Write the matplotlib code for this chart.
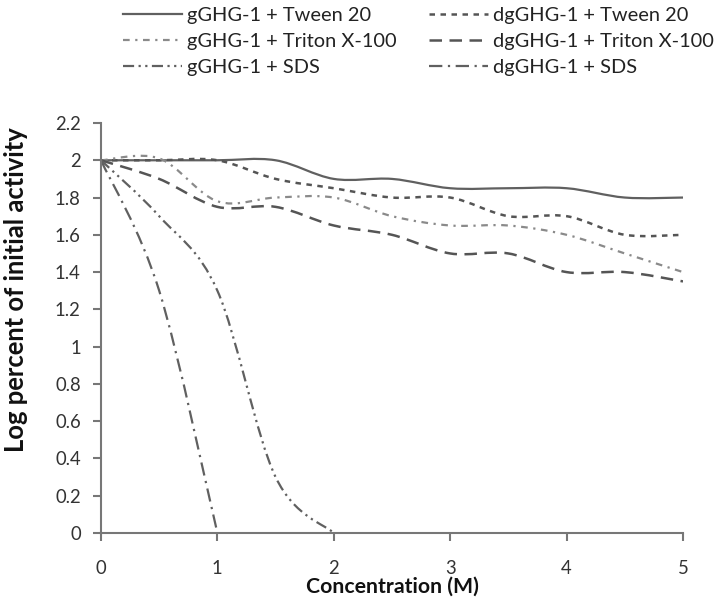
import matplotlib.pyplot as plt
from matplotlib.path import Path
from matplotlib.patches import PathPatch
from matplotlib.lines import Line2D

plt.rcParams['font.family'] = ['Lato', 'DejaVu Sans']

conc = [0, 0.5, 1, 1.5, 2, 2.5, 3, 3.5, 4, 4.5, 5]
g_tween = [2, 2, 2, 2, 1.9, 1.9, 1.85, 1.85, 1.85, 1.8, 1.8]
dg_tween = [2, 2, 2, 1.9, 1.85, 1.8, 1.8, 1.7, 1.7, 1.6, 1.6]
g_triton = [2, 2.01, 1.78, 1.8, 1.8, 1.7, 1.65, 1.65, 1.6, 1.5, 1.4]
dg_triton = [2, 1.9, 1.75, 1.75, 1.65, 1.6, 1.5, 1.5, 1.4, 1.4, 1.35]
conc_g_sds = [0, 0.5, 1, 1.5, 2]
g_sds = [2, 1.7, 1.3, 0.3, 0]
conc_dg_sds = [0, 0.5, 1]
dg_sds = [2, 1.3, 0]

labels = ["gGHG-1 + Tween 20", "dgGHG-1 + Tween 20",
          "gGHG-1 + Triton X-100", "dgGHG-1 + Triton X-100",
          "gGHG-1 + SDS", "dgGHG-1 + SDS"]

W, H = 715, 601


def smooth_path(xs, ys):
    # Excel-like smoothed line: cubic bezier between data points
    pts = list(zip(xs, ys))
    verts = [pts[0]]
    codes = [Path.MOVETO]
    n = len(pts)
    for i in range(n - 1):
        p0 = pts[i - 1] if i > 0 else pts[i]
        p1 = pts[i]
        p2 = pts[i + 1]
        p3 = pts[i + 2] if i + 2 < n else pts[i + 1]
        c1 = (p1[0] + (p2[0] - p0[0]) / 6, p1[1] + (p2[1] - p0[1]) / 6)
        c2 = (p2[0] - (p3[0] - p1[0]) / 6, p2[1] - (p3[1] - p1[1]) / 6)
        verts += [c1, c2, p2]
        codes += [Path.CURVE4] * 3
    return Path(verts, codes)


fig = plt.figure(figsize=(W / 100, H / 100), dpi=100)
renderer = fig.canvas.get_renderer()


def fit_size(text, target_px, weight='normal'):
    # font size (pt) that makes text about target_px wide
    t = fig.text(0, 0, text, fontsize=10, fontweight=weight)
    w = t.get_window_extent(renderer=renderer).width
    t.remove()
    return 10 * target_px / w


leg_fs = fit_size("gGHG-1 + Tween 20", 183)
tick_fs = fit_size("2.2", 26)
xlab_fs = fit_size("Concentration (M)", 173, 'bold')
ylab_fs = fit_size("Log percent of initial activity", 326, 'bold')

ax = fig.add_axes([101 / W, 1 - 533 / H, 582 / W, 410 / H])

series = [
    (conc, g_tween, '-', '#606060', 1.6),
    (conc, dg_tween, (0, (2.2, 2.2)), '#555555', 1.8),
    (conc, g_triton, (0, (3, 2.5, 1, 2.5)), '#8a8a8a', 1.6),
    (conc, dg_triton, (0, (5, 3)), '#555555', 1.8),
    (conc_g_sds, g_sds, (0, (5, 2, 1, 2, 1, 2)), '#606060', 1.6),
    (conc_dg_sds, dg_sds, (0, (6, 2.5, 1, 2.5)), '#606060', 1.6),
]

handles = []
for (xs, ys, ls, col, lw), lab in zip(series, labels):
    patch = PathPatch(smooth_path(xs, ys), fill=False, edgecolor=col,
                      linestyle=ls, linewidth=lw, transform=ax.transData)
    ax.add_patch(patch)
    handles.append(Line2D([], [], color=col, linestyle=ls, linewidth=lw, label=lab))

ax.set_xlim(0, 5)
ax.set_ylim(0, 2.2)
ax.set_xticks([0, 1, 2, 3, 4, 5])
ax.set_yticks([0, 0.2, 0.4, 0.6, 0.8, 1, 1.2, 1.4, 1.6, 1.8, 2, 2.2])
ax.set_yticklabels(['0', '0.2', '0.4', '0.6', '0.8', '1', '1.2', '1.4',
                    '1.6', '1.8', '2', '2.2'])

for s in ['top', 'right']:
    ax.spines[s].set_visible(False)
for s in ['left', 'bottom']:
    ax.spines[s].set_color('#777777')
    ax.spines[s].set_linewidth(1.5)
ax.tick_params(axis='both', direction='out', length=5.5, width=1.5,
               color='#777777', labelsize=tick_fs, labelcolor='#333333')
ax.tick_params(axis='x', pad=14)
ax.tick_params(axis='y', pad=9)

ax.set_xlabel("Concentration (M)", fontsize=xlab_fs, fontweight='bold',
              labelpad=0, color='#111111')
ax.set_ylabel("Log percent of initial activity", fontsize=ylab_fs,
              fontweight='bold', color='#111111')
ax.yaxis.set_label_coords(-0.125, 0.593)

# legend: 3 rows x 2 columns, filled column by column
order = [0, 2, 4, 1, 3, 5]
leg_px = leg_fs * 100 / 72
fig.legend(handles=[handles[i] for i in order], ncol=2, frameon=False,
           fontsize=leg_fs, loc='upper left', borderpad=0, borderaxespad=0,
           bbox_to_anchor=(123 / W, 1 - 7 / H),
           handlelength=59 / leg_px, handletextpad=5 / leg_px,
           columnspacing=32 / leg_px,
           labelspacing=(33 - 1.2 * leg_px) / leg_px,
           labelcolor='#222222')

fig.savefig("out.png", dpi=100)
